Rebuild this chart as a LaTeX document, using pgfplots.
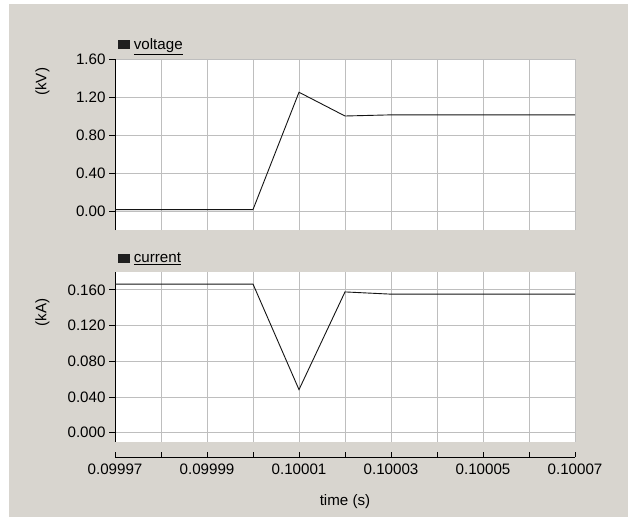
\documentclass[border=0pt]{standalone}
\usepackage{fontspec}
\setmainfont{Liberation Sans}
\usepackage{pgfplots}
\pgfplotsset{compat=1.18}

\definecolor{panelbg}{RGB}{216,213,207}
\definecolor{gridgray}{RGB}{190,190,190}
\definecolor{trace}{RGB}{20,20,20}

% voltage (kV) and current (kA) against time (s)
\pgfplotstableread{
t        v
0.09997  0.015
0.10000  0.015
0.10001  1.250
0.10002  1.000
0.10003  1.012
0.10007  1.012
}\voltagedata
\pgfplotstableread{
t        i
0.09997  0.1665
0.10000  0.1665
0.10001  0.0483
0.10002  0.1577
0.10003  0.1552
0.10007  0.1552
}\currentdata

\pgfplotsset{
  every axis/.append style={font=\fontsize{15.2}{18}\selectfont},
  panel/.style={
    scale only axis,
    width=460bp,
    anchor=south west,
    xmin=0.09997, xmax=0.10007,
    xtick={0.09997,0.09998,0.09999,0.10000,0.10001,0.10002,0.10003,0.10004,0.10005,0.10006,0.10007},
    xticklabels={},
    xmajorticks=false,
    scaled ticks=false,
    separate axis lines,
    axis y line*=left,
    y axis line style={-, line width=1bp, black},
    x axis line style={draw=none},
    grid=major,
    grid style={line width=1bp, draw=gridgray},
    tick align=outside,
    major tick length=6bp,
    ytick style={line width=1bp, black},
    /pgf/number format/assume math mode=true,
    axis background/.style={fill=white},
    legend style={
      at={(axis description cs:0.0065,1)}, anchor=south west,
      draw=none, fill=none, inner sep=0pt, outer sep=0pt,
      yshift=8bp,
      nodes={inner sep=0pt, outer sep=0pt},
      /tikz/every odd column/.append style={column sep=4bp},
    },
    legend image code/.code={\fill[black!88] (0bp,-4bp) rectangle (11bp,4bp);},
    legend cell align=left,
  },
}

\begin{document}
\begin{tikzpicture}
  \fill[white] (0bp,0bp) rectangle (629bp,-517bp);
  \fill[panelbg] (9bp,-4bp) rectangle (628bp,-517bp);

  % upper panel: voltage
  \begin{axis}[
    panel,
    at={(115bp,-230bp)},
    height=171bp,
    ymin=-0.2, ymax=1.6,
    ytick={0,0.4,0.8,1.2,1.6},
    yticklabel style={/pgf/number format/.cd, fixed, fixed zerofill, precision=2},
    ylabel={(kV)},
    ylabel style={at={(axis description cs:-0.1576,0.867)}, anchor=center},
  ]
    \addplot[trace, line width=0.9bp, sharp plot] table[x=t, y=v] {\voltagedata};
    \addlegendentry{\underline{voltage}}
  \end{axis}

  % lower panel: current
  \begin{axis}[
    panel,
    at={(115bp,-441.7bp)},
    height=169.7bp,
    ymin=-0.01, ymax=0.18,
    ytick={0,0.04,0.08,0.12,0.16},
    yticklabel style={/pgf/number format/.cd, fixed, fixed zerofill, precision=3},
    ylabel={(kA)},
    ylabel style={at={(axis description cs:-0.1576,0.76)}, anchor=center},
  ]
    \addplot[trace, line width=0.9bp, sharp plot] table[x=t, y=i] {\currentdata};
    \addlegendentry{\underline{current}}
  \end{axis}

  % shared time axis
  \begin{axis}[
    scale only axis,
    width=460bp, height=10bp,
    anchor=south west,
    at={(115bp,-457bp)},
    xmin=0.09997, xmax=0.10007,
    ymin=0, ymax=1,
    hide y axis,
    axis x line*=bottom,
    x axis line style={-, line width=1bp, black},
    xtick={0.09997,0.09998,0.09999,0.10000,0.10001,0.10002,0.10003,0.10004,0.10005,0.10006,0.10007},
    xticklabels={0.09997,{},0.09999,{},0.10001,{},0.10003,{},0.10005,{},0.10007},
    xticklabel style={yshift=-3bp},
    xtick style={line width=1bp, black},
    tick align=inside,
    major tick length=5bp,
    scaled ticks=false,
    xlabel={time (s)},
    xlabel style={at={(rel axis cs:0.5,0)}, yshift=-44.5bp, anchor=center},
  ]
  \end{axis}
\end{tikzpicture}
\end{document}
